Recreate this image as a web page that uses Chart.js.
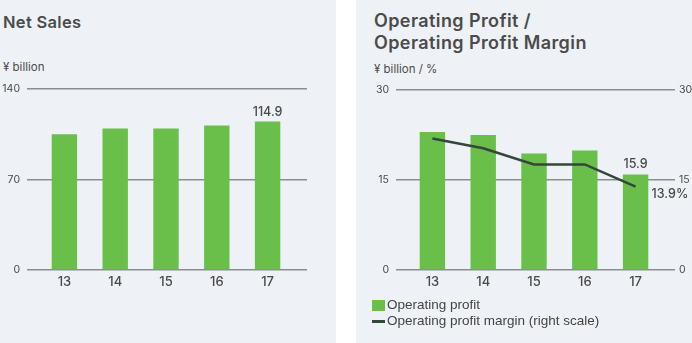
<!DOCTYPE html>
<html>
<head>
<meta charset="utf-8">
<script src="https://cdn.jsdelivr.net/npm/chart.js@4/dist/chart.umd.min.js"></script>
<style>
  body { margin: 0; width: 692px; height: 343px; background: #fff; position: relative; overflow: hidden; font-family: Inter, "Open Sans", sans-serif; }
  .panel { position: absolute; top: 0; height: 343px; width: 336px; background: #eef1f5; }
  #left { left: 0; }
  #right { left: 356px; }
  .panel canvas { position: absolute; left: 0; top: 0; }
  .title { position: absolute; font-weight: 600; color: #4b4b4b; white-space: nowrap; }
  .unit { position: absolute; font-size: 11.5px; color: #4b4b4b; }
  .legend { position: absolute; left: 16px; top: 297px; font-family: "Liberation Sans", Arial, sans-serif; font-size: 13.5px; color: #444; line-height: 16px; }
  .legend div { position: relative; padding-left: 15px; }
  .legend .box { position: absolute; left: 0; top: 3px; width: 13px; height: 11px; background: #6abf4b; }
  .legend .dash { position: absolute; left: 0; top: 7px; width: 13px; height: 3px; background: #34473a; }
</style>
</head>
<body>
<div class="panel" id="left">
  <div class="title" style="left:3px; top:13px; font-size:16.5px; line-height:18px; letter-spacing:0.3px;">Net Sales</div>
  <div class="unit" style="left:3px; top:60px;">¥ billion</div>
  <canvas id="sales" width="336" height="343"></canvas>
</div>
<div class="panel" id="right">
  <div class="title" style="left:18px; top:10px; font-size:18px; line-height:22px; letter-spacing:0.4px;">Operating Profit /<br>Operating Profit Margin</div>
  <div class="unit" style="left:18px; top:62px;">¥ billion / %</div>
  <canvas id="profit" width="336" height="343"></canvas>
  <div class="legend">
    <div><span class="box"></span>Operating profit</div>
    <div><span class="dash"></span>Operating profit margin (right scale)</div>
  </div>
</div>

<script>
const years = ['13', '14', '15', '16', '17'];
const netSales = [105.0, 109.5, 109.4, 111.8, 114.9];
const operatingProfit = [23.0, 22.5, 19.4, 19.9, 15.9];
const profitMargin = [21.9, 20.3, 17.6, 17.6, 13.9];

const salesTicks = [0, 70, 140];
const profitTicks = [0, 15, 30];

const GREEN = '#6abf4b';
const LINE = '#34473a';
const GRID = '#8a8d92';
const TEXT = '#4a4a4a';

// value labels for the last year
const lastLabels = {
  id: 'lastLabels',
  afterDatasetsDraw(chart, args, opts) {
    const ctx = chart.ctx;
    ctx.save();
    ctx.fillStyle = TEXT;
    ctx.font = '500 12.5px Inter, sans-serif';
    opts.items.forEach(item => {
      const meta = chart.getDatasetMeta(item.dataset);
      const el = meta.data[meta.data.length - 1];
      const value = chart.data.datasets[item.dataset].data[meta.data.length - 1];
      ctx.textAlign = item.align;
      ctx.textBaseline = 'middle';
      ctx.fillText(value.toFixed(1) + (item.suffix || ''), el.x + item.dx, el.y + item.dy);
    });
    ctx.restore();
  }
};

function yAxis(ticks, position, tickLength, width, showLabels, padding) {
  return {
    position: position,
    min: ticks[0],
    max: ticks[ticks.length - 1],
    afterBuildTicks: scale => { scale.ticks = ticks.map(v => ({ value: v })); },
    afterFit: scale => { scale.width = width; },
    border: { display: false },
    grid: {
      color: GRID,
      lineWidth: 1.5,
      drawTicks: true,
      tickLength: tickLength,
      drawOnChartArea: position === 'left'
    },
    ticks: {
      display: showLabels,
      color: TEXT,
      padding: padding,
      font: { family: 'Inter', size: 10.5 }
    }
  };
}

const xAxis = {
  grid: { display: false, drawTicks: false },
  border: { display: false },
  afterFit: scale => { scale.height = 30; },
  ticks: { color: TEXT, padding: 4, font: { family: 'Inter', size: 13, weight: 500 } }
};

new Chart(document.getElementById('sales'), {
  type: 'bar',
  data: {
    labels: years,
    datasets: [{
      data: netSales,
      backgroundColor: GREEN,
      categoryPercentage: 1,
      barPercentage: 0.5
    }]
  },
  options: {
    responsive: false,
    animation: false,
    layout: { padding: { left: 0, right: 29, top: 89, bottom: 43 } },
    plugins: {
      legend: { display: false },
      tooltip: { enabled: false },
      lastLabels: { items: [{ dataset: 0, align: 'center', dx: 0, dy: -9 }] }
    },
    scales: {
      x: xAxis,
      y: yAxis(salesTicks, 'left', 12, 39, true, 7),
      yr: yAxis(salesTicks, 'right', 14, 14, false, 0)
    }
  },
  plugins: [lastLabels]
});

new Chart(document.getElementById('profit'), {
  data: {
    labels: years,
    datasets: [
      {
        type: 'line',
        data: profitMargin,
        yAxisID: 'y1',
        borderColor: LINE,
        borderWidth: 2.5,
        pointRadius: 0,
        tension: 0,
        order: 0
      },
      {
        type: 'bar',
        data: operatingProfit,
        yAxisID: 'y',
        backgroundColor: GREEN,
        categoryPercentage: 1,
        barPercentage: 0.5,
        order: 1
      }
    ]
  },
  options: {
    responsive: false,
    animation: false,
    layout: { padding: { left: 0, right: 0, top: 90, bottom: 43 } },
    plugins: {
      legend: { display: false },
      tooltip: { enabled: false },
      lastLabels: { items: [
        { dataset: 1, align: 'center', dx: 0, dy: -10 },
        { dataset: 0, align: 'left', dx: 16, dy: 8, suffix: '%' }
      ] }
    },
    scales: {
      x: xAxis,
      y: yAxis(profitTicks, 'left', 11, 51, true, 7),
      y1: yAxis(profitTicks, 'right', 14, 31, true, 4)
    }
  },
  plugins: [lastLabels]
});
</script>
</body>
</html>
